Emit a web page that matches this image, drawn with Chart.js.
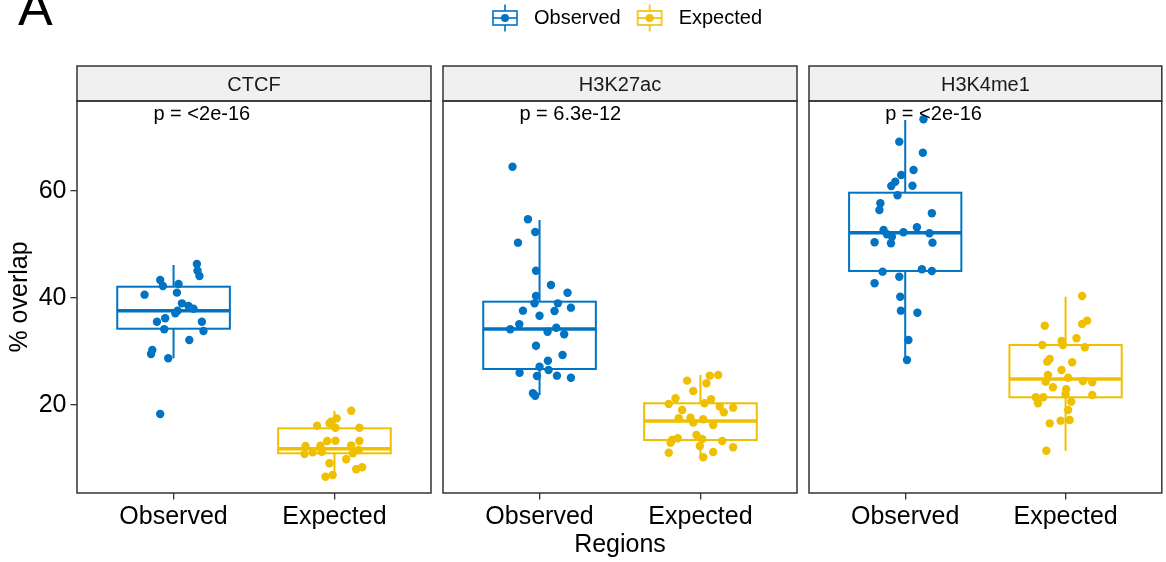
<!DOCTYPE html>
<html>
<head>
<meta charset="utf-8">
<script src="https://cdn.jsdelivr.net/npm/chart.js@4.4.1/dist/chart.umd.min.js"></script>
<style>
  html, body { margin: 0; padding: 0; background: #ffffff; }
  #wrap { position: relative; width: 1166px; height: 562px; overflow: hidden; background: #ffffff; }
  #wrap canvas { position: absolute; left: 0; top: 0; }
</style>
</head>
<body>
<div id="wrap">
  <canvas id="p0" width="1166" height="562"></canvas>
  <canvas id="p1" width="1166" height="562"></canvas>
  <canvas id="p2" width="1166" height="562"></canvas>
  <canvas id="lg" width="1166" height="562"></canvas>
</div>
<script>
// ---------------- data ----------------
const facets = ['CTCF', 'H3K27ac', 'H3K4me1'];
const regions = ['Observed', 'Expected'];
const pValueLabels = ['p = <2e-16', 'p = 6.3e-12', 'p = <2e-16'];
const yTickValues = [20, 40, 60];

// % overlap, one value per sample, with horizontal jitter (in category units)
const ctcfObserved = [46.36, 45.1, 44.11, 43.36, 42.24, 42.62, 40.62, 41.0, 39.0, 38.5, 38.0, 37.63, 37.14, 35.57, 36.2, 34.15, 35.57, 33.83, 32.15, 30.28, 29.53, 28.73, 18.32];
const ctcfObservedJitter = [0.145, 0.149, 0.161, -0.083, -0.066, 0.031, -0.180, 0.021, 0.052, 0.093, 0.124, 0.025, 0.011, -0.103, -0.052, -0.058, 0.176, 0.186, 0.098, -0.132, -0.140, -0.033, -0.083];
const ctcfExpected = [18.93, 17.5, 16.87, 16.57, 15.76, 16.13, 15.76, 13.27, 13.33, 13.27, 12.34, 12.39, 12.46, 10.84, 11.16, 11.27, 10.97, 11.59, 9.10, 9.85, 7.98, 8.35, 6.6, 6.92];
const ctcfExpectedJitter = [0.104, 0.014, -0.021, -0.031, 0.006, -0.108, 0.155, -0.045, 0.006, 0.155, -0.180, -0.087, 0.104, -0.186, -0.135, -0.079, 0.114, 0.151, -0.031, 0.073, 0.135, 0.172, -0.056, -0.011];

const h3k27acObserved = [64.54, 54.71, 52.34, 50.34, 45.10, 42.43, 40.99, 40.37, 39.0, 39.0, 38.19, 37.63, 37.57, 36.69, 35.08, 34.15, 33.70, 34.45, 33.21, 31.08, 29.35, 28.28, 27.16, 26.54, 26.04, 25.42, 25.48, 25.10, 22.19, 21.74];
const h3k27acObservedJitter = [-0.168, -0.072, -0.027, -0.134, -0.022, 0.071, 0.174, -0.022, -0.031, 0.114, 0.195, -0.103, 0.093, 0, -0.126, -0.182, 0.050, 0.104, 0.153, -0.022, 0.143, 0.052, 0, 0.056, -0.124, -0.016, 0.108, 0.195, -0.041, -0.027];
const h3k27acExpected = [25.48, 25.61, 24.55, 24.05, 22.62, 21.25, 20.19, 21.06, 20.32, 19.69, 19.50, 18.63, 19.07, 17.51, 17.63, 16.70, 17.33, 16.26, 13.46, 12.96, 13.78, 14.39, 13.64, 12.34, 13.27, 11.08, 11.21, 12.09, 10.22];
const h3k27acExpectedJitter = [0.058, 0.110, -0.083, 0.037, -0.045, -0.155, -0.197, 0.066, 0.025, 0.120, 0.203, 0.145, -0.114, -0.135, -0.062, -0.045, 0.017, 0.079, -0.176, -0.186, -0.141, -0.025, 0.011, -0.004, 0.135, -0.197, 0.079, 0.203, 0.017];

const h3k4me1Observed = [73.40, 69.22, 67.16, 63.93, 62.99, 61.74, 60.93, 60.99, 59.19, 57.70, 56.45, 55.83, 52.71, 51.91, 51.46, 52.28, 53.21, 52.09, 50.41, 50.22, 50.34, 44.92, 45.36, 45.05, 43.98, 42.75, 40.24, 37.63, 37.25, 32.15, 28.41];
const h3k4me1ObservedJitter = [0.114, -0.037, 0.110, 0.052, -0.025, -0.062, -0.087, 0.045, -0.048, -0.155, -0.161, 0.166, -0.135, -0.114, -0.083, -0.011, 0.073, 0.151, -0.191, -0.089, 0.170, -0.141, 0.104, 0.166, -0.037, -0.191, -0.031, -0.027, 0.076, 0.020, 0.011];
const h3k4me1Expected = [40.37, 35.76, 35.14, 34.82, 32.47, 31.96, 31.21, 31.21, 30.78, 28.60, 28.10, 27.98, 26.54, 25.61, 25.10, 24.36, 24.49, 24.24, 23.31, 22.93, 21.99, 21.87, 21.44, 21.44, 20.32, 20.62, 19.07, 17.07, 17.20, 16.57, 11.46];
const h3k4me1ExpectedJitter = [0.103, 0.134, 0.103, -0.130, 0.068, -0.025, -0.145, -0.017, 0.120, -0.099, -0.114, 0.041, -0.025, -0.110, 0.016, -0.124, 0.108, 0.166, -0.079, 0.004, 0, 0.166, -0.186, -0.139, -0.172, 0.035, 0.016, -0.031, 0.025, -0.099, -0.120];

// box statistics: [lower whisker, Q1, median, Q3, upper whisker]
const ctcfObservedBox = [28.73, 34.26, 37.63, 42.11, 46.17];
const ctcfExpectedBox = [6.6, 10.97, 11.8, 15.64, 18.93];
const h3k27acObservedBox = [21.87, 26.73, 34.21, 39.31, 54.58];
const h3k27acExpectedBox = [10.22, 13.46, 17.01, 20.32, 25.61];
const h3k4me1ObservedBox = [28.41, 45.05, 52.21, 59.68, 73.27];
const h3k4me1ExpectedBox = [11.46, 21.44, 24.86, 31.21, 40.24];

// ---------------- styling / layout ----------------
const FONT = "'Liberation Sans', Arial, Helvetica, sans-serif";
const regionColors = ['#0073C2', '#EFC000'];
const W = 1166;
const panelLeft = [77, 443, 809];
const panelWidth = 354;
const plotTop = 101;
const stripTop = 66;
const xAxisHeight = 69;
const yAxisWidth = 77;
const yMin = 3.55, yMax = 76.82;

const panels = [
  { obs: ctcfObserved, obsJ: ctcfObservedJitter, obsBox: ctcfObservedBox, exp: ctcfExpected, expJ: ctcfExpectedJitter, expBox: ctcfExpectedBox },
  { obs: h3k27acObserved, obsJ: h3k27acObservedJitter, obsBox: h3k27acObservedBox, exp: h3k27acExpected, expJ: h3k27acExpectedJitter, expBox: h3k27acExpectedBox },
  { obs: h3k4me1Observed, obsJ: h3k4me1ObservedJitter, obsBox: h3k4me1ObservedBox, exp: h3k4me1Expected, expJ: h3k4me1ExpectedJitter, expBox: h3k4me1ExpectedBox }
];

const panelPlugin = {
  id: 'panelDeco',
  beforeDatasetsDraw(chart, args, o) {
    const { ctx, scales: { x, y } } = chart;
    o.boxes.forEach((b, k) => {
      const cx = x.getPixelForValue(k + 1);
      const hw = x.getPixelForValue(k + 1 + o.boxHalfWidth) - cx;
      const [lo, q1, md, q3, hi] = b.stats.map(v => y.getPixelForValue(v));
      ctx.save();
      ctx.strokeStyle = b.color;
      ctx.lineWidth = o.lineWidth;
      ctx.beginPath();
      ctx.moveTo(cx, hi); ctx.lineTo(cx, q3);
      ctx.moveTo(cx, q1); ctx.lineTo(cx, lo);
      ctx.stroke();
      ctx.fillStyle = '#ffffff';
      ctx.fillRect(cx - hw, q3, 2 * hw, q1 - q3);
      ctx.strokeRect(cx - hw, q3, 2 * hw, q1 - q3);
      ctx.lineWidth = o.medianWidth;
      ctx.beginPath(); ctx.moveTo(cx - hw, md); ctx.lineTo(cx + hw, md); ctx.stroke();
      ctx.restore();
    });
  },
  afterDatasetsDraw(chart, args, o) {
    const { ctx, scales: { x, y } } = chart;
    ctx.save();
    ctx.font = '20px ' + FONT;
    ctx.fillStyle = '#000000';
    ctx.textAlign = 'left';
    ctx.textBaseline = 'alphabetic';
    ctx.fillText(o.pLabel, x.getPixelForValue(o.pLabelX), y.getPixelForValue(o.pLabelY));
    ctx.restore();
  },
  afterDraw(chart, args, o) {
    const { ctx, chartArea: a } = chart;
    ctx.save();
    ctx.fillStyle = '#f0f0f0';
    ctx.fillRect(a.left, o.stripTop, a.width, a.top - o.stripTop);
    ctx.strokeStyle = '#333333';
    ctx.lineWidth = 1.5;
    ctx.strokeRect(a.left, o.stripTop, a.width, a.top - o.stripTop);
    ctx.strokeRect(a.left, a.top, a.width, a.height);
    ctx.fillStyle = '#1a1a1a';
    ctx.font = '20px ' + FONT;
    ctx.textAlign = 'center';
    ctx.textBaseline = 'alphabetic';
    ctx.fillText(o.title, (a.left + a.right) / 2, o.stripTop + 25);
    if (o.tag) {
      ctx.fillStyle = '#000000';
      ctx.font = '52px ' + FONT;
      ctx.textAlign = 'left';
      ctx.fillText(o.tag, 18, 25);
    }
    ctx.restore();
  }
};

function makePanel(i) {
  const s = panels[i];
  const L = panelLeft[i], R = L + panelWidth;
  const first = i === 0;
  const middle = i === 1;
  return new Chart(document.getElementById('p' + i), {
    type: 'scatter',
    data: {
      datasets: [
        { label: regions[0], data: s.obs.map((v, k) => ({ x: 1 + s.obsJ[k], y: v })),
          backgroundColor: regionColors[0], borderColor: regionColors[0], borderWidth: 0, pointRadius: 4.2, pointHoverRadius: 4.2 },
        { label: regions[1], data: s.exp.map((v, k) => ({ x: 2 + s.expJ[k], y: v })),
          backgroundColor: regionColors[1], borderColor: regionColors[1], borderWidth: 0, pointRadius: 4.2, pointHoverRadius: 4.2 }
      ]
    },
    options: {
      responsive: false,
      animation: false,
      events: [],
      layout: { padding: { left: first ? 0 : L, right: W - R, top: plotTop, bottom: 0 } },
      scales: {
        x: {
          type: 'linear', min: 0.4, max: 2.6,
          afterBuildTicks: sc => { sc.ticks = regions.map((r, k) => ({ value: k + 1 })); },
          afterFit: sc => { sc.height = xAxisHeight; },
          ticks: { callback: v => regions[Math.round(v) - 1], font: { size: 25, family: FONT }, color: '#000000', padding: 2.5, maxRotation: 0, autoSkip: false },
          grid: { drawOnChartArea: false, drawTicks: true, tickLength: 6.5, color: '#333333', lineWidth: 1.3 },
          border: { display: false },
          title: { display: middle, text: 'Regions', font: { size: 25, family: FONT }, color: '#000000', padding: { top: 0, bottom: 2 } }
        },
        y: {
          type: 'linear', position: 'left', min: yMin, max: yMax, display: first,
          afterBuildTicks: sc => { sc.ticks = yTickValues.map(v => ({ value: v })); },
          afterFit: sc => { sc.width = first ? yAxisWidth : 0; },
          ticks: { font: { size: 25, family: FONT }, color: '#000000', padding: 4 },
          grid: { drawOnChartArea: false, drawTicks: true, tickLength: 6.5, color: '#333333', lineWidth: 1.3 },
          border: { display: false },
          title: { display: true, text: '% overlap', font: { size: 25, family: FONT }, color: '#000000', padding: { top: 5, bottom: 0 } }
        }
      },
      plugins: {
        legend: { display: false },
        tooltip: { enabled: false },
        panelDeco: {
          title: facets[i],
          pLabel: pValueLabels[i],
          pLabelX: 0.875, pLabelY: 73.27,
          stripTop: stripTop,
          boxHalfWidth: 0.35, lineWidth: 2, medianWidth: 3.5,
          tag: first ? 'A' : null,
          boxes: [ { stats: s.obsBox, color: regionColors[0] }, { stats: s.expBox, color: regionColors[1] } ]
        }
      }
    },
    plugins: [panelPlugin]
  });
}

[0, 1, 2].forEach(makePanel);

function makeLegendIcon(color) {
  const c = document.createElement('canvas');
  c.width = 30; c.height = 30;
  const g = c.getContext('2d');
  g.strokeStyle = color; g.lineWidth = 1.6;
  g.beginPath();
  g.moveTo(15, 1.5); g.lineTo(15, 8);
  g.moveTo(15, 22); g.lineTo(15, 28.5);
  g.stroke();
  g.strokeRect(3, 8, 24, 14);
  g.beginPath(); g.moveTo(3, 15); g.lineTo(27, 15); g.stroke();
  g.fillStyle = color;
  g.beginPath(); g.arc(15, 15, 4, 0, Math.PI * 2); g.fill();
  return c;
}
const legendIcons = regionColors.map(makeLegendIcon);

new Chart(document.getElementById('lg'), {
  type: 'scatter',
  data: { datasets: [] },
  options: {
    responsive: false,
    animation: false,
    events: [],
    layout: { padding: { left: 82, right: 0, top: -2, bottom: 0 } },
    scales: { x: { display: false }, y: { display: false } },
    plugins: {
      tooltip: { enabled: false },
      legend: {
        display: true,
        position: 'top',
        labels: {
          usePointStyle: true,
          pointStyleWidth: 38,
          padding: 10,
          color: '#000000',
          font: { size: 20, family: FONT },
          generateLabels: () => regions.map((r, k) => ({
            text: r, pointStyle: legendIcons[k], fillStyle: regionColors[k], strokeStyle: regionColors[k],
            fontColor: '#000000', lineWidth: 0, hidden: false, datasetIndex: k
          }))
        }
      }
    }
  }
});
</script>
</body>
</html>
